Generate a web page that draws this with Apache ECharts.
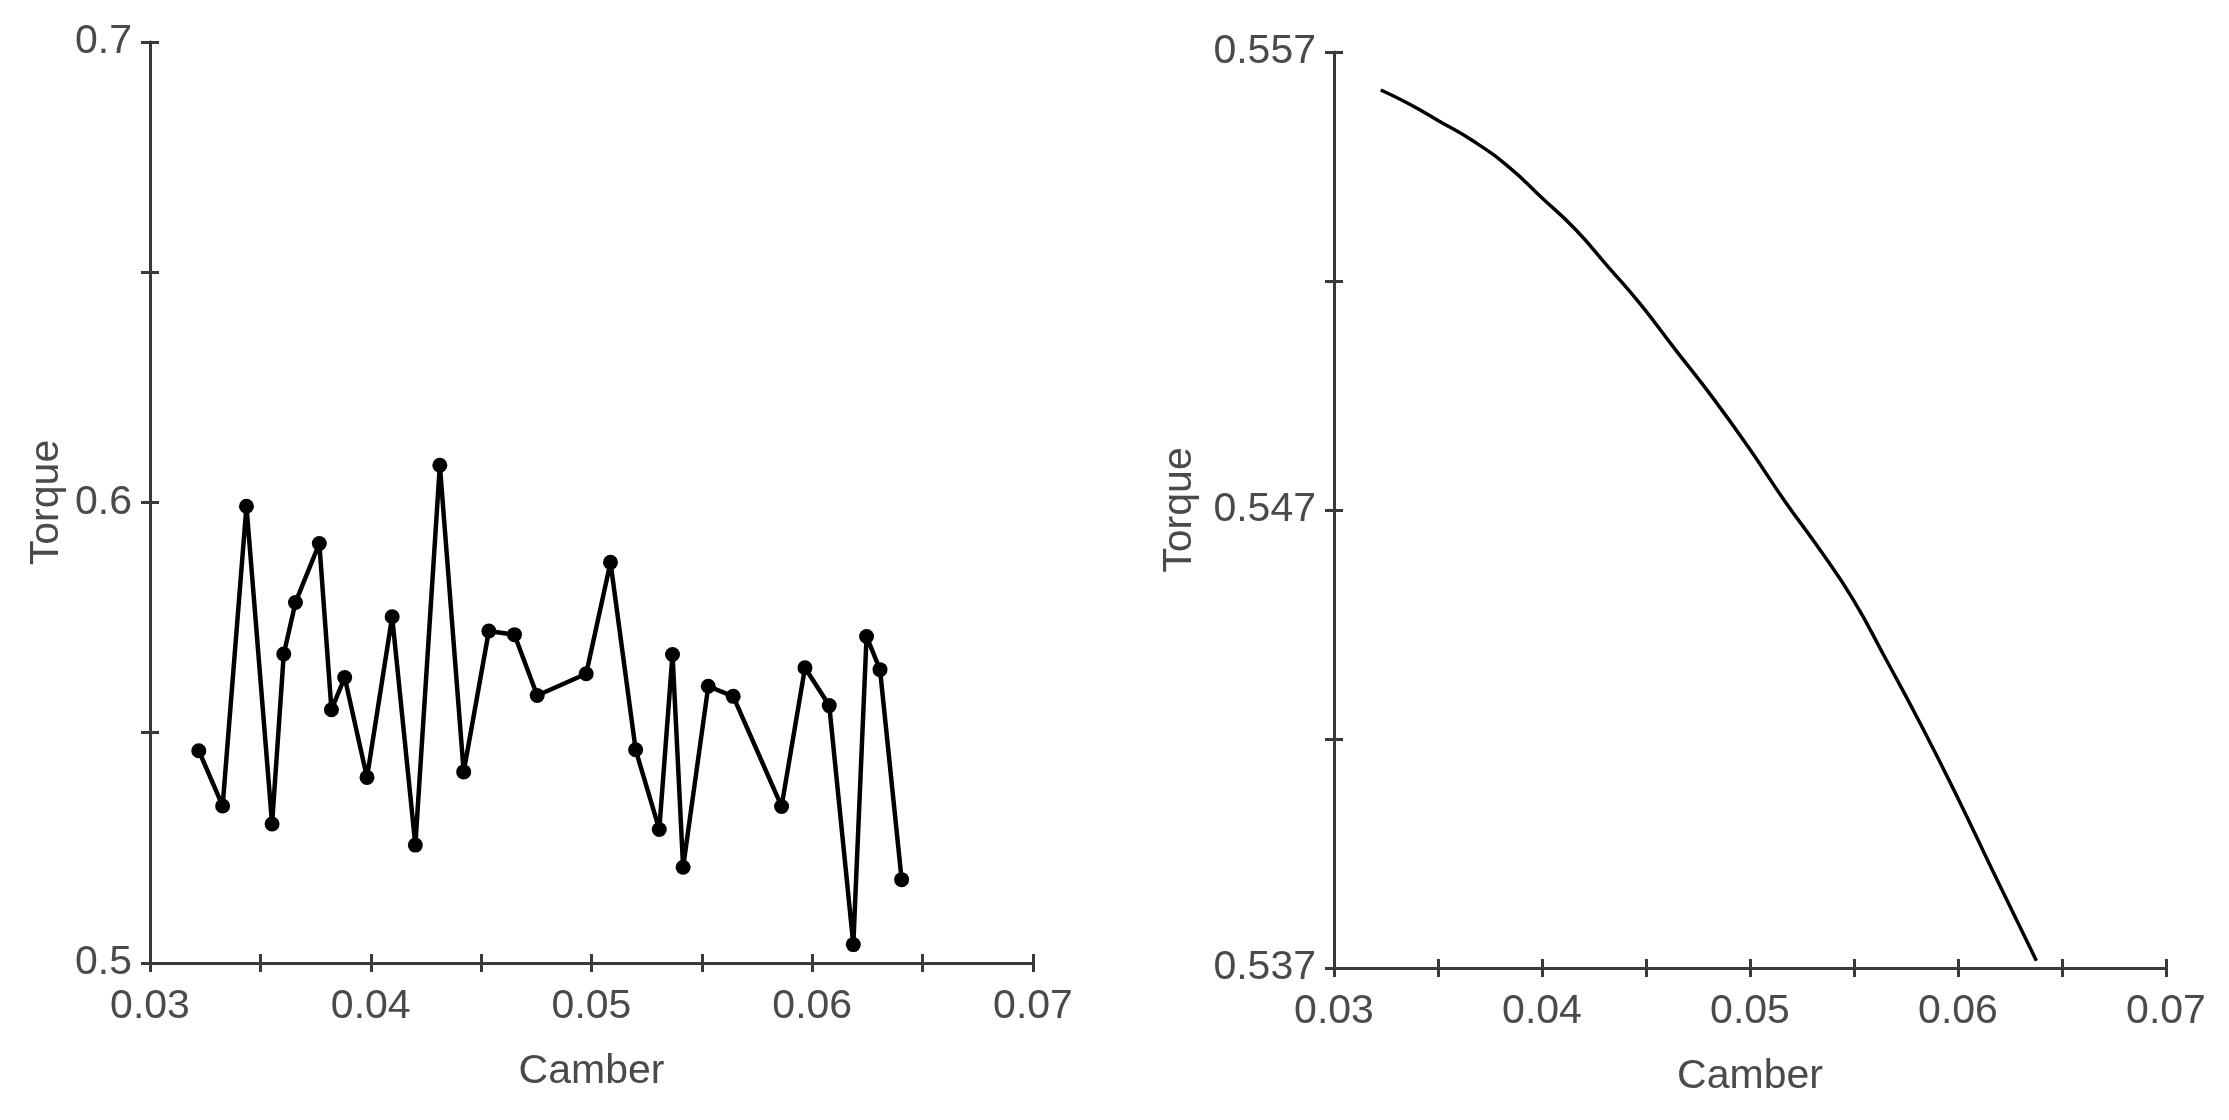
<!DOCTYPE html>
<html>
<head>
<meta charset="utf-8">
<script src="https://cdn.jsdelivr.net/npm/echarts@6/dist/echarts.min.js"></script>
<style>
html,body{margin:0;padding:0;background:#fff;}
#chart{width:2229px;height:1120px;}
</style>
</head>
<body>
<div id="chart"></div>
<script>
// Left chart: measured torque vs camber
const leftCamber = [0.03221,0.03329,0.03437,0.03553,0.03606,0.03659,0.03767,0.03822,0.03882,0.03983,
  0.04097,0.04202,0.04313,0.04421,0.04535,0.04651,0.04754,0.04976,0.05086,0.05200,
  0.05307,0.05367,0.05415,0.05529,0.05642,0.05861,0.05967,0.06077,0.06186,0.06246,0.06307,0.06405];
const leftTorque = [0.5461,0.5341,0.5992,0.5302,0.5671,0.5783,0.5911,0.5550,0.5620,0.5403,
  0.5752,0.5256,0.6081,0.5415,0.5721,0.5713,0.5581,0.5628,0.5870,0.5463,
  0.5290,0.5670,0.5208,0.5601,0.5579,0.5340,0.5641,0.5559,0.5040,0.5709,0.5637,0.5181];

// Right chart: fitted torque vs camber
const rightCamber = [0.03225,0.03364,0.03502,0.03675,0.03848,0.03994,0.04160,0.04316,0.04472,0.04645,
  0.04818,0.04991,0.05165,0.05338,0.05494,0.05649,0.05823,0.05996,0.06169,0.06377];
const rightTorque = [0.55617,0.55586,0.55550,0.55504,0.55446,0.55384,0.55313,0.55232,0.55150,0.55048,
  0.54947,0.54838,0.54721,0.54612,0.54506,0.54378,0.54230,0.54074,0.53910,0.53716];

// Tick labels
const xTickLabels = ['0.03','0.04','0.05','0.06','0.07'];
const leftYTickLabels = ['0.5','0.6','0.7'];
const rightYTickLabels = ['0.537','0.547','0.557'];

const xName = 'Camber';
const yName = 'Torque';

const FONT = 'Liberation Sans, Arial, sans-serif';
const TXT = '#4a4a4a';
const AX = '#3a3a3a';
const FS = 41;

function labelFrom(arr){
  return function(v, i){ return (i % 2 === 0) ? (arr[i/2] || '') : ''; };
}

function mainX(gridIndex){
  return {
    type:'value', gridIndex, position:'bottom', min:0.03, max:0.07, interval:0.005,
    name:xName, nameLocation:'middle', nameGap:88,
    nameTextStyle:{fontFamily:FONT,fontSize:FS,color:TXT},
    axisLine:{show:true,onZero:false,lineStyle:{color:AX,width:3}},
    axisTick:{show:true,inside:false,length:9,lineStyle:{color:AX,width:3}},
    axisLabel:{show:true,margin:23,fontFamily:FONT,fontSize:FS,color:TXT,formatter:labelFrom(xTickLabels),showMinLabel:true,showMaxLabel:true},
    splitLine:{show:false}
  };
}
function dupX(gridIndex){
  return {
    type:'value', gridIndex, position:'bottom', min:0.03, max:0.07, interval:0.005,
    axisLine:{show:false,onZero:false},
    axisTick:{show:true,inside:true,length:9,lineStyle:{color:AX,width:3}},
    axisLabel:{show:false}, splitLine:{show:false}
  };
}
function mainY(gridIndex,min,max,interval,labels,gap){
  return {
    type:'value', gridIndex, position:'left', min, max, interval,
    name:yName, nameLocation:'middle', nameGap:gap,
    nameTextStyle:{fontFamily:FONT,fontSize:FS,color:TXT},
    axisLine:{show:true,onZero:false,lineStyle:{color:AX,width:3}},
    axisTick:{show:true,inside:false,length:9,lineStyle:{color:AX,width:3}},
    axisLabel:{show:true,margin:18,fontFamily:FONT,fontSize:FS,color:TXT,formatter:labelFrom(labels),showMinLabel:true,showMaxLabel:true},
    splitLine:{show:false}
  };
}
function dupY(gridIndex,min,max,interval){
  return {
    type:'value', gridIndex, position:'left', min, max, interval,
    axisLine:{show:false,onZero:false},
    axisTick:{show:true,inside:true,length:9,lineStyle:{color:AX,width:3}},
    axisLabel:{show:false}, splitLine:{show:false}
  };
}

const leftData = leftCamber.map((c,i)=>[c,leftTorque[i]]);
const rightData = rightCamber.map((c,i)=>[c,rightTorque[i]]);

const chart = echarts.init(document.getElementById('chart'), null, {renderer:'canvas'});
chart.setOption({
  backgroundColor:'#ffffff',
  animation:false,
  grid:[
    {left:150, top:42, width:883, height:921, containLabel:false},
    {left:1334, top:52, width:832, height:916, containLabel:false}
  ],
  xAxis:[ mainX(0), dupX(0), mainX(1), dupX(1) ],
  yAxis:[
    mainY(0,0.5,0.7,0.05,leftYTickLabels,83), dupY(0,0.5,0.7,0.05),
    mainY(1,0.537,0.557,0.005,rightYTickLabels,134), dupY(1,0.537,0.557,0.005)
  ],
  series:[
    {type:'line', xAxisIndex:0, yAxisIndex:0, data:leftData, symbol:'circle', symbolSize:15,
     lineStyle:{color:'#000',width:4.5}, itemStyle:{color:'#000'}},
    {type:'line', xAxisIndex:2, yAxisIndex:2, data:rightData, symbol:'none', smooth:0.5,
     lineStyle:{color:'#000',width:3.5}}
  ]
});
</script>
</body>
</html>
